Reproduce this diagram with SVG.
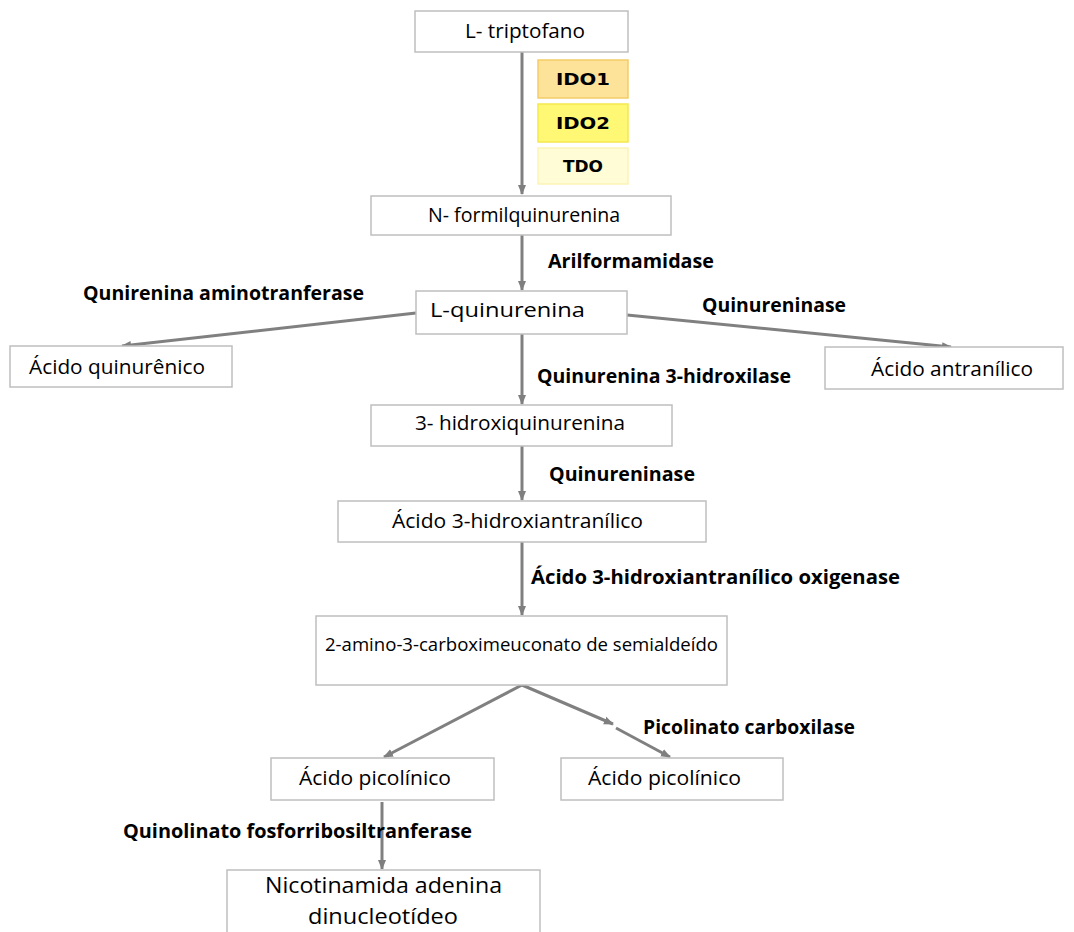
<svg xmlns="http://www.w3.org/2000/svg" width="1074" height="932" viewBox="0 0 1074 932">
<defs>
<marker id="ah" markerUnits="userSpaceOnUse" markerWidth="10" markerHeight="10" viewBox="0 0 10 10" refX="9" refY="5" orient="auto">
<path d="M0,1 L10,5 L0,9 Z" fill="#7f7f7f"/>
</marker>
<style>
.box{fill:#fff;stroke:#bfbfbf;stroke-width:1.5}
.t{font-family:"Open Sans","Liberation Sans",sans-serif;font-size:20px;fill:#000}
.lb{font-family:"Open Sans","Liberation Sans",sans-serif;font-size:19.5px;font-weight:bold;fill:#000}
.en{font-family:"DejaVu Sans",Verdana,sans-serif;font-size:16px;font-weight:bold;fill:#000;text-anchor:middle}
.c{fill:none;stroke:#808080;stroke-width:3;marker-end:url(#ah)}
</style>
</defs>
<rect width="1074" height="932" fill="#fff"/>

<g id="connectors">
<line class="c" x1="522" y1="52" x2="522" y2="194"/>
<line class="c" x1="522" y1="235" x2="522" y2="290"/>
<line class="c" x1="416" y1="313" x2="122" y2="346"/>
<line class="c" x1="627" y1="315" x2="951" y2="347"/>
<line class="c" x1="522" y1="334" x2="522" y2="404"/>
<line class="c" x1="522" y1="446" x2="522" y2="500"/>
<line class="c" x1="522" y1="542" x2="522" y2="615"/>
<line class="c" x1="522" y1="685" x2="384" y2="757"/>
<line class="c" x1="522" y1="685" x2="613" y2="724"/>
<line class="c" x1="616" y1="728" x2="670" y2="757"/>
<line class="c" x1="382" y1="802" x2="382" y2="869"/>
</g>

<g id="enzymes">
<rect x="538" y="60" width="90" height="38" fill="#fde39a" stroke="#f3cd68" stroke-width="1.5"/>
<text class="en" x="583" y="85" textLength="54" lengthAdjust="spacingAndGlyphs">IDO1</text>
<rect x="538" y="104" width="90" height="38" fill="#fff875" stroke="#f4e94e" stroke-width="1.5"/>
<text class="en" x="583" y="129" textLength="54" lengthAdjust="spacingAndGlyphs">IDO2</text>
<rect x="538" y="148" width="90" height="36" fill="#fffcd6" stroke="#fdf3b6" stroke-width="1.5"/>
<text class="en" x="583" y="172" textLength="40" lengthAdjust="spacingAndGlyphs">TDO</text>
</g>

<g id="n-triptofano">
<rect class="box" x="415" y="11" width="213" height="41"/>
<text class="t" x="465" y="38" textLength="120" lengthAdjust="spacingAndGlyphs">L- triptofano</text>
</g>
<g id="n-formil">
<rect class="box" x="371" y="196" width="300" height="39"/>
<text class="t" x="428" y="222" textLength="192" lengthAdjust="spacingAndGlyphs">N- formilquinurenina</text>
</g>
<g id="n-lquin">
<rect class="box" x="416" y="291" width="211" height="43"/>
<text class="t" x="430" y="317" textLength="155" lengthAdjust="spacingAndGlyphs">L-quinurenina</text>
</g>
<g id="n-acquin">
<rect class="box" x="10" y="346" width="222" height="41"/>
<text class="t" x="29" y="374" textLength="176" lengthAdjust="spacingAndGlyphs">Ácido quinurênico</text>
</g>
<g id="n-antran">
<rect class="box" x="825" y="347" width="238" height="42"/>
<text class="t" x="871" y="376" textLength="162" lengthAdjust="spacingAndGlyphs">Ácido antranílico</text>
</g>
<g id="n-3hq">
<rect class="box" x="371" y="405" width="301" height="41"/>
<text class="t" x="415" y="430" textLength="210" lengthAdjust="spacingAndGlyphs">3- hidroxiquinurenina</text>
</g>
<g id="n-3ha">
<rect class="box" x="338" y="501" width="368" height="41"/>
<text class="t" x="392" y="528" textLength="251" lengthAdjust="spacingAndGlyphs">Ácido 3-hidroxiantranílico</text>
</g>
<g id="n-acms">
<rect class="box" x="316" y="616" width="411" height="69"/>
<text class="t" x="325" y="651" style="font-size:17.5px" textLength="393" lengthAdjust="spacingAndGlyphs">2-amino-3-carboximeuconato de semialdeído</text>
</g>
<g id="n-pic1">
<rect class="box" x="271" y="758" width="223" height="42"/>
<text class="t" x="299" y="785" textLength="152" lengthAdjust="spacingAndGlyphs">Ácido picolínico</text>
</g>
<g id="n-pic2">
<rect class="box" x="561" y="758" width="222" height="42"/>
<text class="t" x="588" y="785" textLength="153" lengthAdjust="spacingAndGlyphs">Ácido picolínico</text>
</g>
<g id="n-nad">
<rect class="box" x="227" y="870" width="313" height="80"/>
<text class="t" x="265" y="893" style="font-size:22px" textLength="237" lengthAdjust="spacingAndGlyphs">Nicotinamida adenina</text>
<text class="t" x="308" y="924" style="font-size:22px" textLength="150" lengthAdjust="spacingAndGlyphs">dinucleotídeo</text>
</g>

<g id="labels">
<text class="lb" x="548" y="268" textLength="166" lengthAdjust="spacingAndGlyphs">Arilformamidase</text>
<text class="lb" x="83" y="300" textLength="281" lengthAdjust="spacingAndGlyphs">Qunirenina aminotranferase</text>
<text class="lb" x="702" y="312" textLength="144" lengthAdjust="spacingAndGlyphs">Quinureninase</text>
<text class="lb" x="537" y="383" textLength="254" lengthAdjust="spacingAndGlyphs">Quinurenina 3-hidroxilase</text>
<text class="lb" x="549" y="481" textLength="146" lengthAdjust="spacingAndGlyphs">Quinureninase</text>
<text class="lb" x="531" y="584" textLength="369" lengthAdjust="spacingAndGlyphs">Ácido 3-hidroxiantranílico oxigenase</text>
<text class="lb" x="643" y="734" textLength="212" lengthAdjust="spacingAndGlyphs">Picolinato carboxilase</text>
<text class="lb" x="123" y="838" textLength="349" lengthAdjust="spacingAndGlyphs">Quinolinato fosforribosiltranferase</text>
</g>
</svg>
